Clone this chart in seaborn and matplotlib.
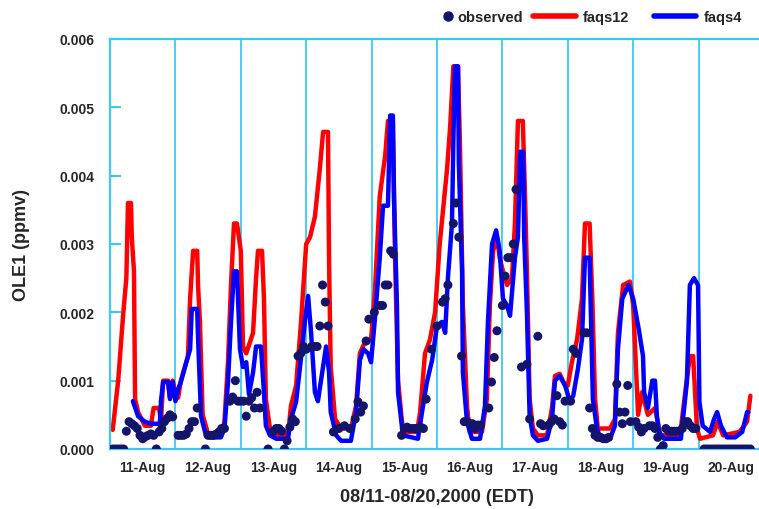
import matplotlib
matplotlib.use("Agg")
import matplotlib.pyplot as plt
import seaborn as sns
from matplotlib.lines import Line2D

# hours since 08/11 00:00 EDT, values in ppmv
faqs12_hours = [
    1, 3, 4.8, 6, 6.6, 7.7, 8, 8.8, 9.2, 10.3, 12.8, 15, 16, 18, 18.7, 19.5, 21.3, 22, 23,
    24, 25, 26, 27.5, 28.6, 29.4, 30.5, 32, 32.3, 33, 34, 36, 40.7, 42, 43.3, 44.4, 45.5, 46.6,
    48, 48.8, 50, 52.5, 53.6, 54.3, 55.8, 56.5, 57.2, 58.7, 60.5, 65.3, 66.4, 68.3, 70,
    72, 73.4, 75.2, 77, 78.2, 80, 80.4, 81, 82.6, 84.8, 88.4, 90.3, 91.7, 93.6, 95.8,
    97.2, 99, 101, 102, 103.8, 104.6, 105.7, 107.5, 112.7, 113.8, 115.6, 117.4, 119.3,
    121, 123.7, 124.8, 126, 127.7, 128.4, 129.5, 131, 132, 136.5, 138.3, 139.4, 140.6, 142, 143,
    144.2, 145.7, 147.5, 148.6, 149.7, 151.5, 152.3, 153, 154, 155.2, 157, 160.4, 162.2, 163.3, 165, 167,
    168, 169.5, 171.4, 173.2, 174.3, 176, 177, 178, 179, 183.5, 185.3, 186.4, 188.3, 190.8,
    192, 193.8, 195.2, 197.4, 200, 202, 209.2, 211, 212.8, 214, 215.4,
    216.5, 221.3, 223, 225, 231, 233.8, 235,
]
faqs12_vals = [
    0.00028, 0.001, 0.00195, 0.0025, 0.0036, 0.0036, 0.0031, 0.0026, 0.00073, 0.00054, 0.00034, 0.00034, 0.0006, 0.0006, 0.0004, 0.001, 0.001, 0.00075, 0.001,
    0.0008, 0.00075, 0.001, 0.0012, 0.00136, 0.0022, 0.0029, 0.0029, 0.0024, 0.00186, 0.0005, 0.00022, 0.00022, 0.0004, 0.00127, 0.0024, 0.0033, 0.0033,
    0.0029, 0.0015, 0.0014, 0.0017, 0.0025, 0.0029, 0.0029, 0.0022, 0.00073, 0.0003, 0.0002, 0.0002, 0.00063, 0.00093, 0.0018,
    0.003, 0.0031, 0.0034, 0.0041, 0.00464, 0.00464, 0.0027, 0.0012, 0.00044, 0.0003, 0.0003, 0.00063, 0.0014, 0.00157, 0.0016,
    0.0023, 0.0037, 0.0043, 0.0048, 0.0048, 0.0028, 0.001, 0.00025, 0.00025, 0.00054, 0.0014, 0.0016, 0.002,
    0.003, 0.0041, 0.0047, 0.0056, 0.0056, 0.0045, 0.0021, 0.00063, 0.00025, 0.00025, 0.00073, 0.0021, 0.0029, 0.0031, 0.0028,
    0.0026, 0.0024, 0.0025, 0.0033, 0.0048, 0.0048, 0.0037, 0.0026, 0.00073, 0.0003, 0.0002, 0.0002, 0.0006, 0.00107, 0.0011, 0.00093,
    0.00093, 0.00127, 0.0016, 0.0022, 0.0033, 0.0033, 0.0022, 0.00073, 0.0003, 0.0003, 0.00044, 0.0017, 0.0024, 0.00245,
    0.0021, 0.0005, 0.00083, 0.0005, 0.0006, 0.0002, 0.0002, 0.0008, 0.00136, 0.00136, 0.0003,
    0.00015, 0.0002, 0.0004, 0.0002, 0.00025, 0.0004, 0.00078,
]

faqs4_hours = [
    8.4, 10.3, 12.8, 15, 18.3, 18.7, 19.5, 21.3, 22, 23,
    24, 25, 26, 27.5, 29.4, 30, 32, 32.3, 33.4, 35.2, 37, 40.7, 42, 43.3, 44.4, 45.5, 46.6, 47.7,
    48.8, 50, 51, 52.5, 53.6, 55.4, 56.5, 57.2, 58.7, 61, 65.3, 66.4, 68.3, 70, 71.6,
    72.7, 73.8, 75.2, 76.3, 78.2, 79.3, 80.4, 81, 83, 84.8, 88.4, 90.3, 91.7, 93, 94.7, 95.8,
    97.2, 99, 100.2, 102, 102.8, 103.8, 104.2, 105.3, 105.7, 107.5, 113, 114.5, 116.3, 118.2,
    120, 121.8, 123, 124, 125.5, 126, 126.6, 127.7, 128, 129.2, 129.5, 131, 132.8, 135.8, 137.6, 138.7, 140.2, 141.7, 143,
    144.2, 145.7, 146.8, 148.6, 149.7, 150.5, 151.6, 152, 153, 154, 155.2, 157, 160.4, 162.2, 163.3, 165, 167,
    168.8, 170, 171.7, 173.2, 174.3, 176, 177.2, 178.7, 180, 183.5, 185.3, 186.4, 188, 190.3,
    192, 194, 195.6, 196, 197.4, 199, 200, 200.7, 201.5, 203.3, 209.5, 211.7, 212.8, 214.3, 215.8,
    216.3, 217.5, 220.2, 221.7, 222.8, 224.2, 226.4, 229.4, 232, 233.8, 234.2,
]
faqs4_vals = [
    0.0007, 0.00048, 0.0004, 0.00037, 0.00037, 0.0007, 0.00098, 0.00098, 0.00073, 0.00098,
    0.0007, 0.00088, 0.00098, 0.0012, 0.00146, 0.00205, 0.00205, 0.00165, 0.00048, 0.0002, 0.00017, 0.00017, 0.0003, 0.00098, 0.00186, 0.0026, 0.0026, 0.00146,
    0.0012, 0.00127, 0.0008, 0.00112, 0.0015, 0.0015, 0.00083, 0.00034, 0.0002, 0.00015, 0.00015, 0.00044, 0.00069, 0.0013, 0.0019,
    0.00224, 0.0017, 0.00083, 0.0007, 0.0012, 0.0015, 0.00112, 0.00054, 0.0002, 0.00012, 0.00012, 0.00054, 0.0013, 0.00146, 0.0014, 0.00127,
    0.0019, 0.0028, 0.00356, 0.00356, 0.00488, 0.00488, 0.0037, 0.0021, 0.00083, 0.0002, 0.00015, 0.00054, 0.00098, 0.0013,
    0.0018, 0.00186, 0.0017, 0.0025, 0.0033, 0.0045, 0.0056, 0.0056, 0.0042, 0.0026, 0.00112, 0.0004, 0.00015, 0.00015, 0.00063, 0.00186, 0.003, 0.0032, 0.0029,
    0.0022, 0.0021, 0.00195, 0.0028, 0.0031, 0.00435, 0.00435, 0.0031, 0.002, 0.00048, 0.0002, 0.00012, 0.00015, 0.00044, 0.001, 0.00107, 0.00093,
    0.00069, 0.00078, 0.00117, 0.0016, 0.0028, 0.0028, 0.00073, 0.0003, 0.00015, 0.00015, 0.00034, 0.00146, 0.0022, 0.0024,
    0.0022, 0.00176, 0.00136, 0.00083, 0.0006, 0.001, 0.001, 0.00048, 0.00025, 0.00015, 0.00015, 0.00098, 0.0024, 0.0025, 0.0024,
    0.00069, 0.00034, 0.00025, 0.00044, 0.00054, 0.00034, 0.00017, 0.00017, 0.00025, 0.00054, 0.00054,
]

obs_hours = [
    1, 2, 3, 4, 5, 6, 7, 8, 9, 10, 11, 12, 13, 14, 15, 16, 17, 18, 19, 20, 21, 22, 23,
    25, 26, 27, 28, 29, 30, 31, 32, 35, 36, 37, 38, 39, 40, 41, 42, 44, 45, 46, 47,
    48, 49, 50, 51, 52, 53, 54, 55, 58, 60, 61, 62, 63, 64, 65, 66, 67, 68, 69, 70, 71,
    72, 74, 75, 76, 77, 78, 79, 80, 82, 84, 86, 88, 90, 91, 92, 93,
    94, 95, 97, 99, 100, 101, 102, 103, 104, 107, 108, 109, 110, 111, 112, 113, 114, 115, 116, 118,
    120, 122, 123, 124, 126, 127, 128, 129, 130, 131, 132, 133, 134, 135, 136, 139, 140, 141, 142,
    144, 145, 146, 147, 148, 149, 151, 153, 154, 157, 158, 159, 161, 162, 163, 164, 165, 166, 167,
    169, 170, 171, 174, 175, 176, 177, 178, 179, 180, 181, 182, 183, 186, 187, 188, 189, 190, 191,
    193, 194, 195, 196, 198, 199, 200, 201, 202, 203, 204, 205, 206, 207, 208, 210, 211, 212, 213, 214, 215,
    218, 219, 220, 221, 222, 223, 224, 225, 226, 227, 228, 229, 230, 231, 232, 233, 234, 235,
]
obs_vals = [
    0.0, 0.0, 0.0, 0.0, 0.0, 0.00026, 0.0004, 0.00037, 0.00034, 0.0003, 0.0002, 0.00015, 0.00018, 0.0002, 0.00022, 0.0002, 0.0, 0.00025, 0.0003, 0.0004, 0.00045, 0.0005, 0.00047,
    0.0002, 0.0002, 0.0002, 0.00022, 0.0003, 0.0004, 0.0004, 0.0006, 0.0, 0.0002, 0.0002, 0.0002, 0.00022, 0.00025, 0.0003, 0.0003, 0.0007, 0.00076, 0.001, 0.0007,
    0.0007, 0.0007, 0.00048, 0.0007, 0.00075, 0.0006, 0.00083, 0.0006, 0.0, 0.00026, 0.0003, 0.0003, 0.00026, 0.0, 0.00012, 0.00032, 0.00044, 0.0004, 0.00136, 0.0014, 0.0015,
    0.00146, 0.0015, 0.0015, 0.0015, 0.0018, 0.0024, 0.00215, 0.0018, 0.00025, 0.0003, 0.00034, 0.0003, 0.00044, 0.00069, 0.00054, 0.00063,
    0.00158, 0.0019, 0.002, 0.0021, 0.0021, 0.0024, 0.0024, 0.0029, 0.00285, 0.0002, 0.0003, 0.00032, 0.0003, 0.0003, 0.0003, 0.0003, 0.00032, 0.0003, 0.00073, 0.00146,
    0.0018, 0.00215, 0.0022, 0.0024, 0.0033, 0.0036, 0.0031, 0.00136, 0.0004, 0.0004, 0.00037, 0.00037, 0.0003, 0.00035, 0.00035, 0.0006, 0.00098, 0.00134, 0.00173,
    0.0021, 0.00253, 0.0028, 0.0028, 0.003, 0.0038, 0.0012, 0.00124, 0.00044, 0.00165, 0.00037, 0.00034, 0.00035, 0.0004, 0.00044, 0.00078, 0.0004, 0.00035, 0.0007,
    0.0007, 0.00146, 0.0014, 0.0017, 0.0017, 0.0006, 0.0003, 0.0002, 0.00017, 0.00017, 0.00015, 0.00015, 0.00017, 0.00095, 0.00054, 0.00037, 0.00054, 0.00093, 0.0004,
    0.0004, 0.00032, 0.00025, 0.0003, 0.00034, 0.00034, 0.0003, 0.00017, 0.0, 0.00005, 0.0003, 0.00026, 0.00026, 0.00026, 0.00026, 0.0003, 0.0004, 0.0004, 0.00034, 0.0003, 0.0003,
    0.0, 0.0, 0.0, 0.0, 0.0, 0.0, 0.0, 0.0, 0.0, 0.0, 0.0, 0.0, 0.0, 0.0, 0.0, 0.0, 0.0, 0.0,
]

day_labels = ["11-Aug", "12-Aug", "13-Aug", "14-Aug", "15-Aug",
              "16-Aug", "17-Aug", "18-Aug", "19-Aug", "20-Aug"]
y_ticks = [0.0, 0.001, 0.002, 0.003, 0.004, 0.005, 0.006]

GRID = "#3cc8f5"
RED = "#ff0000"
BLUE = "#0000ff"
NAVY = "#14146a"

sns.set_style("white")
plt.rcParams["font.family"] = ["Liberation Sans", "DejaVu Sans"]
plt.rcParams["font.weight"] = "bold"

fig = plt.figure(figsize=(7.59, 5.10), dpi=100)
ax = fig.add_axes([110 / 759, 60 / 510, 654 / 759, 410 / 510])

# day boundaries
for d in range(1, len(day_labels)):
    ax.axvline(24 * d, color=GRID, lw=1.3, zorder=0)

sns.lineplot(x=faqs12_hours, y=faqs12_vals, color=RED, lw=3.2, ax=ax,
             estimator=None, sort=False, zorder=2)
sns.lineplot(x=faqs4_hours, y=faqs4_vals, color=BLUE, lw=3.2, ax=ax,
             estimator=None, sort=False, zorder=3)
sns.scatterplot(x=obs_hours, y=obs_vals, color=NAVY, s=42, edgecolor="none",
                ax=ax, zorder=4)

ax.set_xlim(0, 240)
ax.set_ylim(0, 0.006)
ax.set_xticks([24 * i + 12 for i in range(len(day_labels))])
ax.set_xticklabels(day_labels)
ax.set_yticks(y_ticks)
ax.set_yticklabels([f"{v:.3f}" for v in y_ticks])
ax.tick_params(axis="x", length=0, pad=8, labelsize=10)
ax.tick_params(axis="y", direction="in", length=8, width=1.5, color=GRID,
               pad=11, labelsize=10, left=True)
for s in ax.spines.values():
    s.set_color(GRID)
    s.set_linewidth(1.6)

ax.set_xlabel("08/11-08/20,2000 (EDT)", fontsize=13, fontweight="bold")
ax.xaxis.set_label_coords(0.5, -0.095)
ax.set_ylabel("OLE1 (ppmv)", fontsize=13, fontweight="bold")
ax.yaxis.set_label_coords(-0.122, 0.5)

# legend: dot entry gets a short handle, line entries a long one
leg_font = {"size": 10.5, "weight": "bold"}
dot = Line2D([], [], marker="o", ls="none", color=NAVY, markersize=6.5)
leg1 = fig.legend([dot], ["observed"], loc="center right",
                  bbox_to_anchor=(0.707, 0.965), frameon=False,
                  handlelength=0.8, handletextpad=0.3, prop=leg_font)
lines = [Line2D([], [], color=RED, lw=4), Line2D([], [], color=BLUE, lw=4)]
fig.legend(lines, ["faqs12", "faqs4"], loc="center right",
           bbox_to_anchor=(0.995, 0.965), ncol=2, frameon=False,
           handlelength=2.9, handletextpad=0.5, columnspacing=1.7,
           prop=leg_font)

plt.savefig("out.png", dpi=100)
plt.close()
